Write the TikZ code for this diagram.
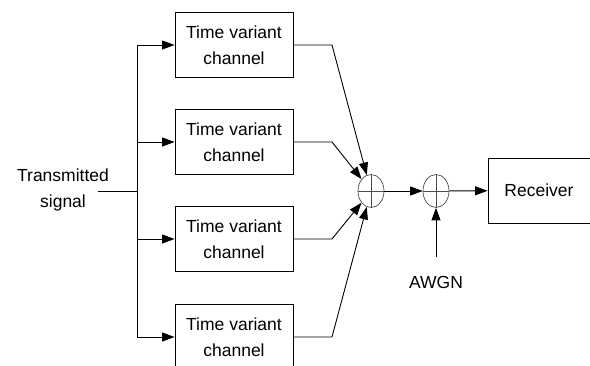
\documentclass[tikz,border=0pt]{standalone}
\usepackage{fontspec}
\setmainfont{Liberation Sans}
\usetikzlibrary{arrows.meta,shapes.geometric}

\begin{document}
\begin{tikzpicture}
  [x=1pt,y=-1pt,font=\fontsize{17.5}{26}\selectfont,line width=0.9pt,
   >={Triangle[length=12.5pt,width=9pt]},
   chan/.style={draw,minimum width=118pt,minimum height=65pt,align=center,inner sep=0pt},
   adder/.style={ellipse,draw=black!70,line width=0.7pt,minimum width=26pt,minimum height=33pt,inner sep=0pt}]
  \useasboundingbox (0,0) rectangle (590,366);

  \node (tx) at (63,190) [align=center] {Transmitted\\signal};
  \coordinate (txend) at (98,191);
  \coordinate (split) at (137,191);
  \coordinate (b1) at (137,45);
  \coordinate (b2) at (137,142);
  \coordinate (b3) at (137,239);
  \coordinate (b4) at (137,337);

  \node[chan] (ch1) at (234,45)  {Time variant\\channel};
  \node[chan] (ch2) at (234,142) {Time variant\\channel};
  \node[chan] (ch3) at (234,239) {Time variant\\channel};
  \node[chan] (ch4) at (234,337) {Time variant\\channel};

  \coordinate (k1) at (332,45);
  \coordinate (k2) at (332,142);
  \coordinate (k3) at (332,239);
  \coordinate (k4) at (332,337);

  \node[adder] (add1) at (371,191) {};
  \node[adder] (add2) at (436,191) {};
  \draw[black!70,line width=0.7pt] (add1.north) -- (add1.south) (add1.west) -- (add1.east);
  \draw[black!70,line width=0.7pt] (add2.north) -- (add2.south) (add2.west) -- (add2.east);

  \node[draw,minimum width=102pt,minimum height=65pt] (rx) at (539,190.5) {Receiver};
  \node (awgn) at (436,282) {AWGN};
  \coordinate (nz) at (436,257);

  % splitter
  \draw (txend) -- (split);
  \draw (b1) -- (b4);
  \draw[->] (b1) -- (ch1);
  \draw[->] (b2) -- (ch2);
  \draw[->] (b3) -- (ch3);
  \draw[->] (b4) -- (ch4);

  % combining
  \draw[->] (ch1.east) -- (k1) -- (add1);
  \draw[->] (ch2.east) -- (k2) -- (add1);
  \draw[->] (ch3.east) -- (k3) -- (add1);
  \draw[->] (ch4.east) -- (k4) -- (add1);

  \draw[->] (add1) -- (add2);
  \draw[->] (add2) -- (rx);
  \draw[->] (nz) -- (add2);
\end{tikzpicture}
\end{document}
